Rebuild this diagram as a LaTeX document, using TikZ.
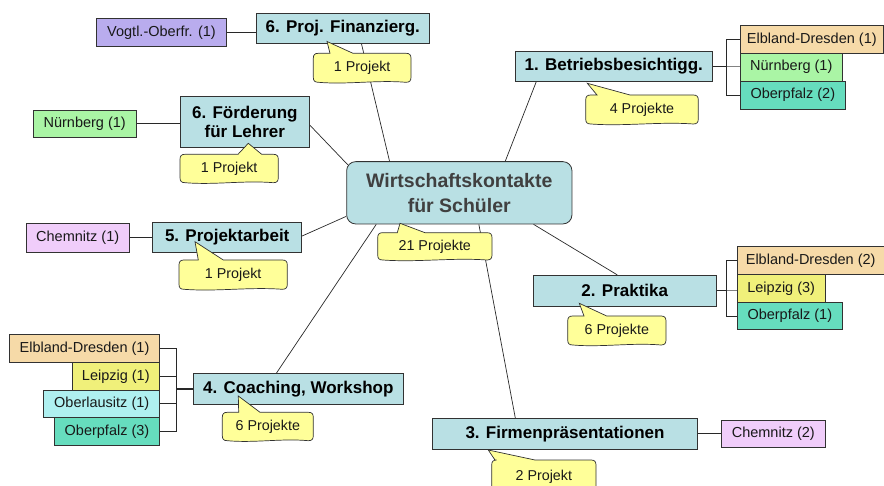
\documentclass[tikz,border=0pt]{standalone}
\usepackage{fontspec}
\setmainfont{Liberation Sans}
\usetikzlibrary{calc}
\pgfdeclarelayer{bg}
\pgfsetlayers{bg,main}
\definecolor{catfill}{RGB}{185,224,228}
\definecolor{callfill}{RGB}{255,255,153}
\definecolor{boxline}{RGB}{50,50,50}
\definecolor{linecol}{RGB}{40,40,40}
\definecolor{stubcol}{RGB}{130,130,130}
\definecolor{cTan}{RGB}{246,218,168}
\definecolor{cGreen}{RGB}{170,245,165}
\definecolor{cTeal}{RGB}{102,221,190}
\definecolor{cYellow}{RGB}{240,240,122}
\definecolor{cCyan}{RGB}{175,240,240}
\definecolor{cPink}{RGB}{240,205,250}
\definecolor{cLav}{RGB}{185,172,238}
\definecolor{ctrtext}{RGB}{64,64,64}
\newcommand\callshape[8]{%
  \filldraw[callstyle] (#1+5,#2) -- (#7,#2) -- (#5,#6) -- (#8,#2) -- (#3-5,#2)
   .. controls (#3-1.5,#2) and (#3,#2+1.5) .. (#3,#2+5)
   -- (#3,#4-5)
   .. controls (#3,#4-1.5) and (#3-1.5,#4) .. (#3-5,#4)
   .. controls ({#3-0.35*(#3-#1)},{#4-2.5}) and ({#1+0.35*(#3-#1)},{#4+2.5}) .. (#1+5,#4)
   .. controls (#1+1.5,#4) and (#1,#4-1.5) .. (#1,#4-5)
   -- (#1,#2+5)
   .. controls (#1,#2+1.5) and (#1+1.5,#2) .. (#1+5,#2) -- cycle;
}
\begin{document}
\begin{tikzpicture}[x=1pt,y=-1pt,
  catbox/.style={draw=boxline, fill=catfill, line width=0.8pt, inner sep=0pt,
    font=\fontsize{17}{19.5}\selectfont\bfseries, align=center, text=black},
  regbox/.style={draw=boxline, line width=0.8pt, inner sep=0pt,
    font=\fontsize{14.5}{17}\selectfont, text=black!90},
  callstyle/.style={draw=boxline, fill=callfill, line width=0.7pt},
  calltext/.style={font=\fontsize{14.3}{17}\selectfont, inner sep=0pt, text=black!90},
  conn/.style={draw=linecol, line width=0.7pt},
  stub/.style={draw=stubcol, line width=0.7pt},
]
\useasboundingbox (0,0) rectangle (884,486);

% centre
\node[draw=boxline, fill=catfill, line width=0.8pt, rounded corners=9pt,
  minimum width=225.3pt, minimum height=62.3pt, inner sep=0pt, align=center,
  font=\fontsize{19.5}{24.5}\selectfont\bfseries, text=ctrtext] (ctr) at (459.3,192.8)
  {Wirtschaftskontakte\\für Schüler};

% category boxes
\node[catbox, minimum width=172.3pt, minimum height=30.4pt] (p6a) at (342.8,28.5) {6. Proj. Finanzierg.};
\node[catbox, minimum width=129pt, minimum height=50.7pt] (p6b) at (244.8,121.7) {6. Förderung\\für Lehrer};
\node[catbox, minimum width=149pt, minimum height=30.4pt] (p5) at (227.2,237.5) {5. Projektarbeit};
\node[catbox, minimum width=210pt, minimum height=30.6pt] (p4) at (298.3,389) {4. Coaching, Workshop};
\node[catbox, minimum width=265.4pt, minimum height=31pt] (p3) at (565,433.8) {3. Firmenpräsentationen};
\node[catbox, minimum width=183pt, minimum height=31pt] (p2) at (624.8,290.8) {2. Praktika};
\node[catbox, minimum width=197.7pt, minimum height=30.3pt] (p1) at (613.8,66.2) {1. Betriebsbesichtigg.};

% region boxes
\node[regbox, fill=cLav, minimum width=129.6pt, minimum height=27.6pt] (vog) at (161.5,32.5) {Vogtl.-Oberfr. (1)};
\node[regbox, fill=cGreen, minimum width=102.7pt, minimum height=27.3pt] (nb6) at (84.7,123.7) {Nürnberg (1)};
\node[regbox, fill=cPink, minimum width=103.3pt, minimum height=28.3pt] (ch1) at (77.7,237.8) {Chemnitz (1)};

\node[regbox, fill=cTan, minimum width=143pt, minimum height=27.6pt] (ed1) at (811.8,39.5) {Elbland-Dresden (1)};
\node[regbox, fill=cGreen, minimum width=102pt, minimum height=27.7pt] (nb1) at (791.3,67.2) {Nürnberg (1)};
\node[regbox, fill=cTeal, minimum width=105pt, minimum height=28pt] (op2) at (792.8,95) {Oberpfalz (2)};

\node[regbox, fill=cTan, minimum width=146.7pt, minimum height=27.3pt] (ed2) at (810.7,260.3) {Elbland-Dresden (2)};
\node[regbox, fill=cYellow, minimum width=87.7pt, minimum height=28.7pt] (le3) at (781.2,288.3) {Leipzig (3)};
\node[regbox, fill=cTeal, minimum width=105pt, minimum height=26.6pt] (op1) at (789.8,316) {Oberpfalz (1)};

\node[regbox, fill=cTan, minimum width=150.4pt, minimum height=28pt] (ed4) at (84.5,348.7) {Elbland-Dresden (1)};
\node[regbox, fill=cYellow, minimum width=87.7pt, minimum height=27.3pt] (le4) at (115.8,376.3) {Leipzig (1)};
\node[regbox, fill=cCyan, minimum width=116pt, minimum height=27.7pt] (ol4) at (101.7,403.8) {Oberlausitz (1)};
\node[regbox, fill=cTeal, minimum width=105.4pt, minimum height=28pt] (op4) at (107,431.7) {Oberpfalz (3)};

\node[regbox, fill=cPink, minimum width=103.3pt, minimum height=27.7pt] (ch2) at (773.3,433.8) {Chemnitz (2)};

% bracket points
\coordinate (b1) at (726,66.2);
\coordinate (b2) at (726.7,290.8);
\coordinate (b4) at (176.3,389);

\begin{pgfonlayer}{bg}
% spokes
\draw[conn] ([xshift=105.3pt]p6a.south west) -- ([xshift=43.3pt]ctr.north west);
\draw[conn] ([yshift=-3.3pt]p6b.east) -- ([shift={(1.5pt,-3.5pt)}]ctr.north west);
\draw[conn] ([yshift=1.5pt]p5.east) -- ([yshift=8pt]ctr.south west);
\draw[conn] ([xshift=83.4pt]p4.north west) -- ([xshift=30pt]ctr.south west);
\draw[conn] ([xshift=132.6pt]ctr.south west) -- ([xshift=83.4pt]p3.north west);
\draw[conn] ([xshift=187.3pt]ctr.south west) -- ([xshift=84.4pt]p2.north west);
\draw[conn] ([xshift=21.7pt]p1.south west) -- ([xshift=159pt]ctr.north west);
% leaf connectors
\draw[conn] (vog.east) -- (vog.east -| p6a.west);
\draw[conn] (nb6.east) -- (nb6.east -| p6b.west);
\draw[conn] (ch1.east) -- (ch1.east -| p5.west);
\draw[conn] (p3.east) -- (p3.east -| ch2.west);
% bracket 1
\draw[conn, line width=1.2pt] (p1.east) -- (b1);
\draw[stub] (b1) -- (b1 -| nb1.west);
\draw[conn] (ed1.west) -- (ed1.west -| b1) -- (op2.west -| b1) -- (op2.west);
% bracket 2
\draw[conn, line width=1.2pt] (p2.east) -- (b2);
\draw[stub] (b2) -- (b2 -| le3.west);
\draw[conn] (ed2.west) -- (ed2.west -| b2) -- (op1.west -| b2) -- (op1.west);
% bracket 4
\draw[conn, line width=1.6pt] (p4.west) -- (b4);
\draw[conn] (ed4.east) -- (ed4.east -| b4) -- (op4.east -| b4) -- (op4.east);
\draw[conn] (le4.east) -- (le4.east -| b4);
\draw[conn] (ol4.east) -- (ol4.east -| b4);
\end{pgfonlayer}

% callouts
\callshape{313.3}{53.3}{411}{82.3}{327}{41.5}{330}{353}
\node[calltext] (c6a) at (362.2,68.3) {1 Projekt};
\callshape{180}{154.3}{278.3}{182.7}{248.3}{143.3}{238}{261.7}
\node[calltext] (c6b) at (229.2,169) {1 Projekt};
\callshape{179}{260}{287.3}{289.3}{195}{241.7}{198.3}{223.3}
\node[calltext] (c5) at (233.2,275) {1 Projekt};
\callshape{377.7}{232.7}{492}{260}{400}{223.3}{397.3}{425}
\node[calltext] (c21) at (434.8,246.8) {21 Projekte};
\callshape{585.7}{95}{698.3}{124}{587.3}{83.3}{597}{630}
\node[calltext] (c1) at (642,110) {4 Projekte};
\callshape{567.7}{316}{666}{345}{579.3}{303.3}{584}{606.7}
\node[calltext] (c2) at (616.8,331) {6 Projekte};
\callshape{222.3}{412.3}{313.3}{440.7}{238.3}{396}{238.7}{260}
\node[calltext] (c4) at (267.8,427) {6 Projekte};
\callshape{491.7}{460}{596}{494}{488.3}{450}{495}{535}
\node[calltext] (c3) at (543.8,476.5) {2 Projekt};
\end{tikzpicture}
\end{document}
